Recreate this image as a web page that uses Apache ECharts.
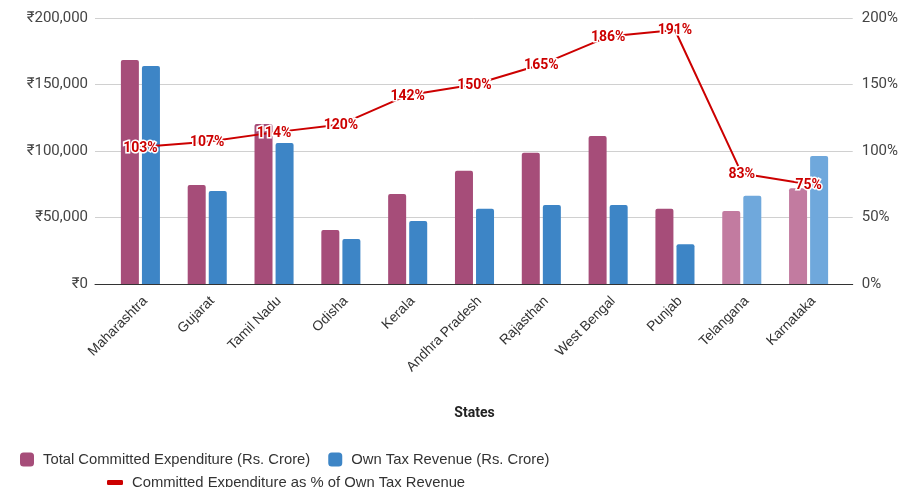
<!DOCTYPE html>
<html>
<head>
<meta charset="utf-8">
<script src="https://cdn.jsdelivr.net/npm/echarts@6/dist/echarts.min.js"></script>
<style>
  html, body { margin: 0; padding: 0; background: #fff; }
  #chart { width: 901px; height: 487px; }
</style>
</head>
<body>
<div id="chart"></div>
<script>
var states = ['Maharashtra', 'Gujarat', 'Tamil Nadu', 'Odisha', 'Kerala', 'Andhra Pradesh',
  'Rajasthan', 'West Bengal', 'Punjab', 'Telangana', 'Karnataka'];
var committedExp = [168500, 74500, 120300, 40600, 67700, 85200, 98700, 111300, 56600, 54900, 72000];
var ownTaxRev = [164000, 70000, 106000, 33800, 47400, 56600, 59400, 59400, 29800, 66400, 96200];
var pctOfRevenue = [103, 107, 114, 120, 142, 150, 165, 186, 191, 83, 75];
// these two are drawn in lighter shades
var lightStates = ['Telangana', 'Karnataka'];

var purple = '#a64d79', purpleLight = '#c27ba0';
var blue = '#3d85c6', blueLight = '#6fa8dc';
var red = '#cc0000';
var font = 'Roboto';
var sans = 'Liberation Sans';

var colorItems = function(vals, dark, light){
	return vals.map(function(v, i){
		var isLight = lightStates.indexOf(states[i]) > -1;
		return { value: v, itemStyle: { color: isLight ? light : dark } };
	});
};

var chart = echarts.init(document.getElementById('chart'));
chart.setOption({
	animation: false,
	textStyle: { fontFamily: font },
	grid: [
		{ left: 95, right: 48, top: 18, bottom: 203 },
		{ left: 107, right: 59, top: 18, bottom: 203 }
	],
	legend: [
		{
			left: 15, top: 447, itemWidth: 14, itemHeight: 14, itemGap: 18,
			icon: 'roundRect',
			textStyle: { fontSize: 14.8, color: '#333', fontFamily: sans, padding: [0, 0, 0, 4] },
			data: [
				{ name: 'Total Committed Expenditure (Rs. Crore)', itemStyle: { color: purple } },
				{ name: 'Own Tax Revenue (Rs. Crore)', itemStyle: { color: blue } }
			]
		},
		{
			left: 102, top: 470, itemWidth: 16, itemHeight: 5,
			icon: 'roundRect',
			textStyle: { fontSize: 14.8, color: '#333', fontFamily: sans, padding: [0, 0, 0, 4] },
			data: [{ name: 'Committed Expenditure as % of Own Tax Revenue', itemStyle: { color: red } }]
		}
	],
	xAxis: [
		{
			gridIndex: 0, type: 'value', min: 0, max: 1,
			axisLine: { show: true, lineStyle: { color: '#333', width: 1 } },
			axisTick: { show: false }, axisLabel: { show: false }, splitLine: { show: false }
		},
		{
			gridIndex: 1, type: 'category', data: states,
			axisLine: { show: false }, axisTick: { show: false },
			axisLabel: {
				rotate: 45, margin: 10, verticalAlign: 'top',
				fontSize: 13.8, color: '#333', fontFamily: sans, interval: 0
			},
			name: 'States', nameLocation: 'middle', nameGap: 122,
			nameTextStyle: { fontWeight: 'bold', fontSize: 14, color: '#222', fontFamily: font }
		}
	],
	yAxis: [
		{
			gridIndex: 0, type: 'value', min: 0, max: 200000, interval: 50000,
			axisLine: { show: false }, axisTick: { show: false },
			axisLabel: {
				margin: 7, fontSize: 15, color: '#444', fontFamily: font,
				formatter: function(v){ return '₹' + v.toLocaleString('en-US'); }
			},
			splitLine: { lineStyle: { color: '#d0d0d0' } }
		},
		{
			gridIndex: 0, type: 'value', min: 0, max: 200, interval: 50, position: 'right',
			axisLine: { show: false }, axisTick: { show: false },
			axisLabel: { margin: 9, fontSize: 15, color: '#444', fontFamily: font, formatter: '{value}%' },
			splitLine: { show: false }
		},
		{ gridIndex: 1, type: 'value', min: 0, max: 200000, show: false },
		{ gridIndex: 1, type: 'value', min: 0, max: 200, show: false }
	],
	series: [
		{
			name: 'Total Committed Expenditure (Rs. Crore)', type: 'bar',
			xAxisIndex: 1, yAxisIndex: 2,
			barWidth: 18, barGap: '17%',
			itemStyle: { color: purple, borderRadius: [2, 2, 0, 0] },
			data: colorItems(committedExp, purple, purpleLight)
		},
		{
			name: 'Own Tax Revenue (Rs. Crore)', type: 'bar',
			xAxisIndex: 1, yAxisIndex: 2,
			barWidth: 18, barGap: '17%',
			itemStyle: { color: blue, borderRadius: [2, 2, 0, 0] },
			data: colorItems(ownTaxRev, blue, blueLight)
		},
		{
			name: 'Committed Expenditure as % of Own Tax Revenue', type: 'line',
			xAxisIndex: 1, yAxisIndex: 3,
			symbol: 'circle', symbolSize: 1,
			itemStyle: { color: red },
			lineStyle: { color: red, width: 2 },
			label: {
				show: true, position: 'inside', formatter: '{c}%', offset: [0, 1],
				fontSize: 14, fontWeight: 'bold', color: red, fontFamily: font,
				textBorderColor: '#fff', textBorderWidth: 3
			},
			z: 5,
			data: pctOfRevenue
		}
	]
});
</script>
</body>
</html>
